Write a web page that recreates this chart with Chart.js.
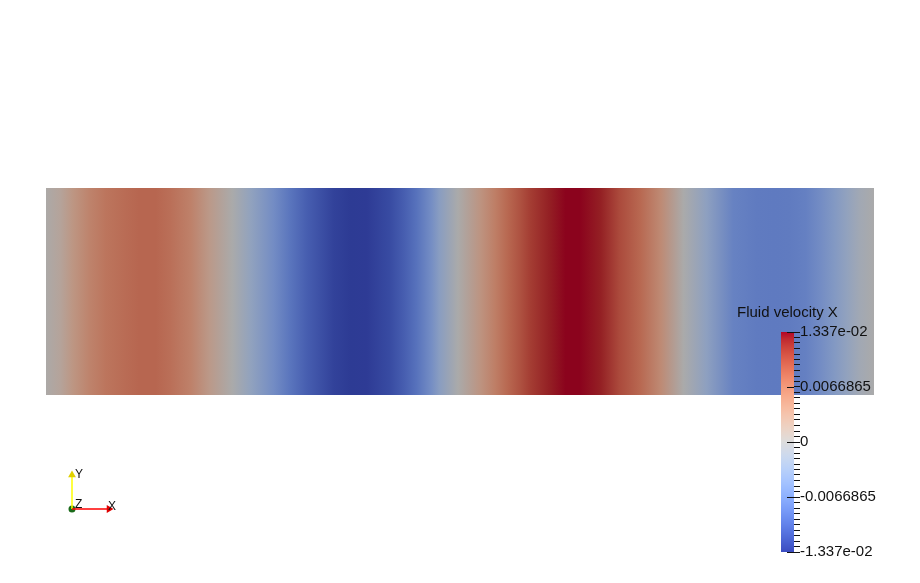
<!DOCTYPE html>
<html>
<head>
<meta charset="utf-8">
<script src="https://cdn.jsdelivr.net/npm/chart.js@4.4.0/dist/chart.umd.min.js"></script>
<style>
    html, body { margin: 0; padding: 0; background: #fff; }
    #wrap { position: relative; width: 920px; height: 583px; overflow: hidden; }
    #field { position: absolute; left: 0; top: 0; }
    #legend { position: absolute; left: 737px; top: 302px; }
    #triad { position: absolute; left: 50px; top: 460px; }
</style>
</head>
<body>
<div id="wrap">
    <canvas id="field" width="920" height="583"></canvas>
    <canvas id="legend" width="183" height="281"></canvas>
    <canvas id="triad" width="80" height="60"></canvas>
</div>
<script>
// sample positions along the channel and the x velocity read at each one
var positions = [0, 0.07, 0.13, 0.21, 0.29, 0.38, 0.45, 0.53, 0.60, 0.70,
    0.79, 0.90, 0.99, 1.10, 1.18, 1.26, 1.39, 1.47, 1.55, 1.66,
    1.73, 1.79, 1.86, 1.90, 1.99, 2.10, 2.17, 2.23, 2.29, 2.34,
    2.43, 2.51, 2.58, 2.68, 2.77, 2.87, 2.97, 3.08, 3.19, 3.32,
    3.43, 3.52, 3.59, 3.67, 3.74, 3.81, 3.87, 3.93, 4.00];
var velocityX = [0.0003, 0.0015, 0.0035, 0.0055, 0.0068, 0.0076, 0.0080, 0.0080, 0.0073, 0.0057,
    0.0030, 0.0000, -0.0030, -0.0061, -0.0085, -0.0105, -0.0128, -0.0134, -0.0133, -0.0121,
    -0.0105, -0.0088, -0.0060, -0.0038, 0.0000, 0.0038, 0.0060, 0.0079, 0.0095, 0.0109,
    0.0125, 0.0134, 0.0134, 0.0125, 0.0100, 0.0079, 0.0048, 0.0000, -0.0033, -0.0072,
    -0.0079, -0.0080, -0.0079, -0.0074, -0.0061, -0.0045, -0.0029, -0.0012, 0.0000];

var rangeMin = -0.013373;
var rangeMax = 0.013373;
var tickValues = [0.013373, 0.0066865, 0, -0.0066865, -0.013373];
var tickLabels = ['1.337e-02', '0.0066865', '0', '-0.0066865', '-1.337e-02'];
var minorSteps = 40;

var triadX = [{x: 0, y: 0}, {x: 1, y: 0}];
var triadY = [{x: 0, y: 0}, {x: 0, y: 1}];

// cool to warm colour map
var coolWarmTable = [
    [59, 76, 192], [68, 90, 204], [77, 104, 215], [87, 117, 225], [98, 130, 234],
    [108, 142, 241], [119, 154, 247], [130, 165, 251], [141, 176, 254], [152, 185, 255],
    [163, 194, 255], [174, 201, 253], [184, 208, 249], [194, 213, 244], [204, 217, 238],
    [213, 219, 230], [221, 221, 221], [229, 216, 209], [236, 211, 197], [241, 204, 185],
    [245, 196, 173], [247, 187, 160], [247, 177, 148], [247, 166, 135], [244, 154, 123],
    [241, 141, 111], [236, 127, 99], [229, 112, 88], [222, 96, 77], [213, 80, 66],
    [203, 62, 56], [192, 40, 47], [180, 4, 38]
];
var surfaceShade = 0.77;
var textColor = '#111';
var fontFamily = "'Liberation Sans', Arial, sans-serif";

function coolWarm(v, shade) {
    var t = (v - rangeMin) / (rangeMax - rangeMin);
    t = Math.max(0, Math.min(1, t));
    var f = t * (coolWarmTable.length - 1);
    var i = Math.floor(f);
    if (i >= coolWarmTable.length - 1) i = coolWarmTable.length - 2;
    var r = f - i;
    var a = coolWarmTable[i], b = coolWarmTable[i + 1];
    var c = [];
    for (var k = 0; k < 3; k++) {
        c.push(Math.round((a[k] + (b[k] - a[k]) * r) * shade));
    }
    return 'rgb(' + c.join(',') + ')';
}

function fieldGradient(ctx) {
    var chart = ctx.chart;
    if (!chart.chartArea) return 'rgba(0,0,0,0)';
    var xs = chart.scales.x;
    var x0 = xs.getPixelForValue(positions[0]);
    var x1 = xs.getPixelForValue(positions[positions.length - 1]);
    var g = chart.ctx.createLinearGradient(x0, 0, x1, 0);
    for (var i = 0; i < positions.length; i++) {
        var stop = (xs.getPixelForValue(positions[i]) - x0) / (x1 - x0);
        g.addColorStop(Math.max(0, Math.min(1, stop)), coolWarm(velocityX[i], surfaceShade));
    }
    return g;
}

function barGradient(ctx) {
    var chart = ctx.chart;
    if (!chart.chartArea) return 'rgba(0,0,0,0)';
    var ys = chart.scales.y;
    var yBottom = ys.getPixelForValue(rangeMin);
    var yTop = ys.getPixelForValue(rangeMax);
    var g = chart.ctx.createLinearGradient(0, yBottom, 0, yTop);
    var n = coolWarmTable.length - 1;
    for (var i = 0; i <= n; i++) {
        g.addColorStop(i / n, coolWarm(rangeMin + (rangeMax - rangeMin) * i / n, 1));
    }
    return g;
}

// the coloured slice
new Chart(document.getElementById('field'), {
    type: 'line',
    data: {
        datasets: [{
            data: positions.map(function (p) { return {x: p, y: 1}; }),
            fill: 'origin',
            borderColor: 'rgba(0,0,0,0)',
            borderWidth: 0,
            pointRadius: 0,
            tension: 0,
            backgroundColor: fieldGradient
        }]
    },
    options: {
        responsive: false,
        animation: false,
        layout: {padding: {left: 46, right: 46, top: 188, bottom: 188}},
        scales: {
            x: {type: 'linear', min: 0, max: 4, display: false},
            y: {type: 'linear', min: 0, max: 1, display: false}
        },
        plugins: {legend: {display: false}, tooltip: {enabled: false}}
    }
});

// long ticks at the labelled values
var majorTicks = {
    id: 'majorTicks',
    afterDatasetsDraw: function (chart) {
        var ys = chart.scales.y;
        var c = chart.ctx;
        var right = chart.chartArea.right;
        c.save();
        c.strokeStyle = textColor;
        c.lineWidth = 1;
        for (var i = 0; i < tickValues.length; i++) {
            var y = Math.round(ys.getPixelForValue(tickValues[i])) + 0.5;
            c.beginPath();
            c.moveTo(right - 7, y);
            c.lineTo(right, y);
            c.stroke();
        }
        c.restore();
    }
};

// colour legend
new Chart(document.getElementById('legend'), {
    type: 'bar',
    data: {
        labels: ['Fluid velocity X'],
        datasets: [{
            data: [[rangeMin, rangeMax]],
            xAxisID: 'x',
            yAxisID: 'y',
            barPercentage: 1,
            categoryPercentage: 1,
            borderWidth: 0,
            backgroundColor: barGradient
        }]
    },
    options: {
        responsive: false,
        animation: false,
        layout: {padding: {left: 0, right: 0, top: 0, bottom: 31}},
        scales: {
            x: {display: false},
            y: {
                type: 'linear',
                position: 'right',
                min: rangeMin,
                max: rangeMax,
                afterBuildTicks: function (s) {
                    var t = [];
                    for (var i = 0; i <= minorSteps; i++) {
                        t.push({value: rangeMin + (rangeMax - rangeMin) * i / minorSteps});
                    }
                    s.ticks = t;
                },
                afterFit: function (s) { s.width = 126; },
                grid: {drawOnChartArea: false, drawTicks: true, tickLength: 6, tickColor: textColor, tickWidth: 1},
                border: {display: false},
                ticks: {
                    autoSkip: false,
                    padding: 0,
                    color: textColor,
                    font: {family: fontFamily, size: 15},
                    callback: function (value) {
                        for (var i = 0; i < tickValues.length; i++) {
                            if (Math.abs(value - tickValues[i]) < 1e-7) return tickLabels[i];
                        }
                        return '';
                    }
                }
            },
            yLeft: {
                type: 'linear',
                position: 'left',
                afterFit: function (s) { s.width = 44; },
                ticks: {display: false},
                grid: {display: false},
                border: {display: false}
            }
        },
        plugins: {
            legend: {display: false},
            tooltip: {enabled: false},
            title: {
                display: true,
                text: 'Fluid velocity X',
                align: 'start',
                color: textColor,
                font: {family: fontFamily, size: 15, weight: 'normal'},
                padding: {top: 2, bottom: 10}
            }
        }
    },
    plugins: [majorTicks]
});

// axis names on the orientation triad
var triadLabels = {
    id: 'triadLabels',
    afterDatasetsDraw: function (chart) {
        var xs = chart.scales.x, ys = chart.scales.y;
        var c = chart.ctx;
        c.save();
        c.fillStyle = textColor;
        c.font = '12px ' + fontFamily;
        c.textBaseline = 'alphabetic';
        c.fillText('X', xs.getPixelForValue(1) - 1, ys.getPixelForValue(0) + 1);
        c.fillText('Y', xs.getPixelForValue(0) + 3, ys.getPixelForValue(1) + 3);
        c.fillText('Z', xs.getPixelForValue(0) + 3, ys.getPixelForValue(0) - 1);
        c.restore();
    }
};

new Chart(document.getElementById('triad'), {
    type: 'scatter',
    data: {
        datasets: [{
            data: triadX,
            showLine: true,
            clip: false,
            borderColor: '#ff0000',
            borderWidth: 1.5,
            pointRadius: [0, 4.5],
            pointStyle: 'triangle',
            rotation: 90,
            pointBackgroundColor: '#e00000',
            pointBorderWidth: 0
        }, {
            data: triadY,
            showLine: true,
            clip: false,
            borderColor: '#ffff00',
            borderWidth: 1.5,
            pointRadius: [0, 4.5],
            pointStyle: 'triangle',
            rotation: 0,
            pointBackgroundColor: '#e0d000',
            pointBorderWidth: 0
        }, {
            data: [{x: 0, y: 0}],
            clip: false,
            pointRadius: 3.5,
            pointBackgroundColor: '#1b6b1b',
            pointBorderWidth: 0
        }]
    },
    options: {
        responsive: false,
        animation: false,
        layout: {padding: {left: 22, right: 21, top: 15, bottom: 11}},
        scales: {
            x: {type: 'linear', min: 0, max: 1, display: false},
            y: {type: 'linear', min: 0, max: 1, display: false}
        },
        plugins: {legend: {display: false}, tooltip: {enabled: false}}
    },
    plugins: [triadLabels]
});
</script>
</body>
</html>
